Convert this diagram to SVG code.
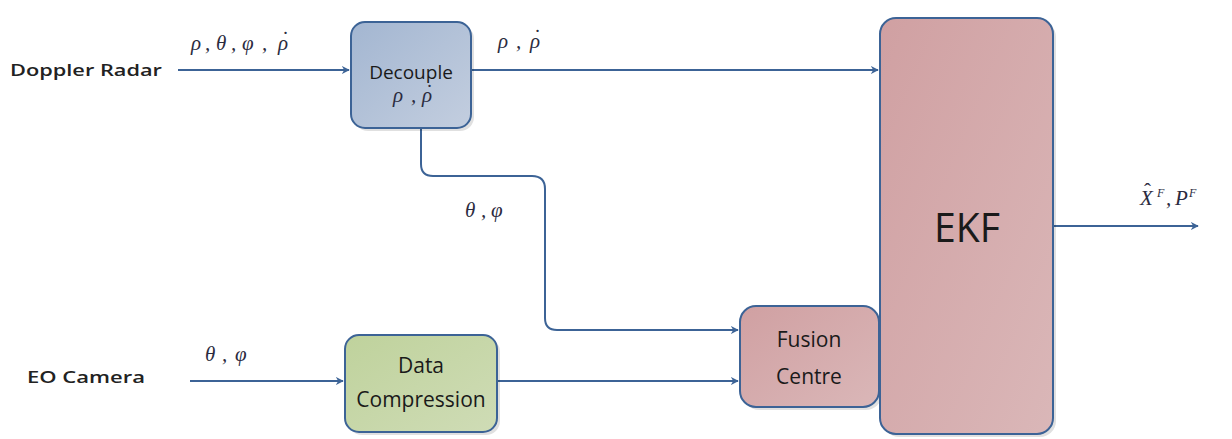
<svg xmlns="http://www.w3.org/2000/svg" width="1232" height="439" viewBox="0 0 1232 439">
<style>
.lbl{font-family:"Open Sans","Liberation Sans",sans-serif;font-weight:600;fill:#222;}
.box{font-family:"Open Sans","Liberation Sans",sans-serif;fill:#1a1a1a;text-anchor:middle;}
.math{font-family:"Liberation Serif","DejaVu Serif",serif;font-style:italic;fill:#2b2b40;font-size:21px;}
.acc{font-style:normal;}
.sup{font-size:12px;}
.conn{fill:none;stroke:#3c6396;stroke-width:2;}
.shadow{fill:#000;opacity:0.12;}
</style>
<defs>
<marker id="arr" viewBox="0 0 10 10" refX="9" refY="5" markerWidth="8" markerHeight="8" orient="auto" markerUnits="userSpaceOnUse">
<path d="M0,0 L10,5 L0,10 L3,5 z" fill="#3c6396"/>
</marker>
<linearGradient id="gBlue" x1="0" y1="0" x2="1" y2="1"><stop offset="0" stop-color="#a3b6d1"/><stop offset="1" stop-color="#c3cedf"/></linearGradient>
<linearGradient id="gGreen" x1="0" y1="0" x2="1" y2="1"><stop offset="0" stop-color="#bfd29c"/><stop offset="1" stop-color="#cfdcb6"/></linearGradient>
<linearGradient id="gPink" x1="0" y1="0" x2="1" y2="1"><stop offset="0" stop-color="#d0a0a2"/><stop offset="1" stop-color="#dab7b8"/></linearGradient>
</defs>

<g id="connectors">
<line class="conn" x1="178" y1="70" x2="349" y2="70" marker-end="url(#arr)"/>
<line class="conn" x1="471" y1="70" x2="878" y2="70" marker-end="url(#arr)"/>
<path class="conn" d="M421,128 V164 Q421,176 433,176 H532 Q545,176 545,189 V318 Q545,330 557,330 H738" marker-end="url(#arr)"/>
<line class="conn" x1="190" y1="381" x2="343" y2="381" marker-end="url(#arr)"/>
<line class="conn" x1="497" y1="381" x2="738" y2="381" marker-end="url(#arr)"/>
<line class="conn" x1="1053" y1="226" x2="1198" y2="226" marker-end="url(#arr)"/>
</g>

<g id="doppler-radar"><text class="lbl" x="10" y="76" font-size="17" textLength="152" lengthAdjust="spacingAndGlyphs">Doppler Radar</text></g>
<g id="eo-camera"><text class="lbl" x="27" y="383" font-size="17" textLength="118" lengthAdjust="spacingAndGlyphs">EO Camera</text></g>

<g id="decouple">
<rect class="shadow" x="354" y="25" width="120" height="106" rx="14"/>
<rect x="351" y="22" width="120" height="106" rx="14" fill="url(#gBlue)" stroke="#3c6396" stroke-width="2"/>
<text class="box" x="411" y="79" font-size="19">Decouple</text>
<text class="math" y="102"><tspan x="393">ρ</tspan><tspan x="411">,</tspan><tspan x="422">ρ</tspan><tspan class="acc" x="426" dy="-3">˙</tspan></text>
</g>

<g id="data-compression">
<rect class="shadow" x="348" y="338" width="152" height="97" rx="14"/>
<rect x="345" y="335" width="152" height="97" rx="14" fill="url(#gGreen)" stroke="#3c6396" stroke-width="2"/>
<text class="box" x="421" y="373" font-size="21">Data</text>
<text class="box" x="421" y="407" font-size="21">Compression</text>
</g>

<g id="fusion-centre">
<rect class="shadow" x="743" y="309" width="139" height="101" rx="16"/>
<rect x="740" y="306" width="139" height="101" rx="16" fill="url(#gPink)" stroke="#3c6396" stroke-width="2"/>
<text class="box" x="809" y="347" font-size="21">Fusion</text>
<text class="box" x="809" y="384" font-size="21">Centre</text>
</g>

<g id="ekf">
<rect class="shadow" x="883" y="21" width="173" height="416" rx="16"/>
<rect x="880" y="18" width="173" height="416" rx="16" fill="url(#gPink)" stroke="#3c6396" stroke-width="2"/>
<text class="box" x="967" y="242" font-size="40" textLength="66" lengthAdjust="spacingAndGlyphs">EKF</text>
</g>

<g id="labels">
<text class="math" y="50"><tspan x="191">ρ</tspan><tspan x="205">,</tspan><tspan x="216">θ</tspan><tspan x="231">,</tspan><tspan x="242">φ</tspan><tspan x="262">,</tspan><tspan x="278">ρ</tspan><tspan class="acc" x="282" dy="-4">˙</tspan></text>
<text class="math" y="48"><tspan x="498">ρ</tspan><tspan x="516">,</tspan><tspan x="530">ρ</tspan><tspan class="acc" x="534" dy="-4">˙</tspan></text>
<text class="math" y="217"><tspan x="465">θ</tspan><tspan x="481">,</tspan><tspan x="491">φ</tspan></text>
<text class="math" y="361"><tspan x="205">θ</tspan><tspan x="222">,</tspan><tspan x="235">φ</tspan></text>
<text class="math" y="205"><tspan x="1140">X</tspan><tspan class="sup" x="1157" dy="-8">F</tspan><tspan x="1166" dy="8">,</tspan><tspan x="1175">P</tspan><tspan class="sup" x="1189" dy="-8">F</tspan><tspan class="acc" x="1144" dy="1">ˆ</tspan></text>
</g>
</svg>
